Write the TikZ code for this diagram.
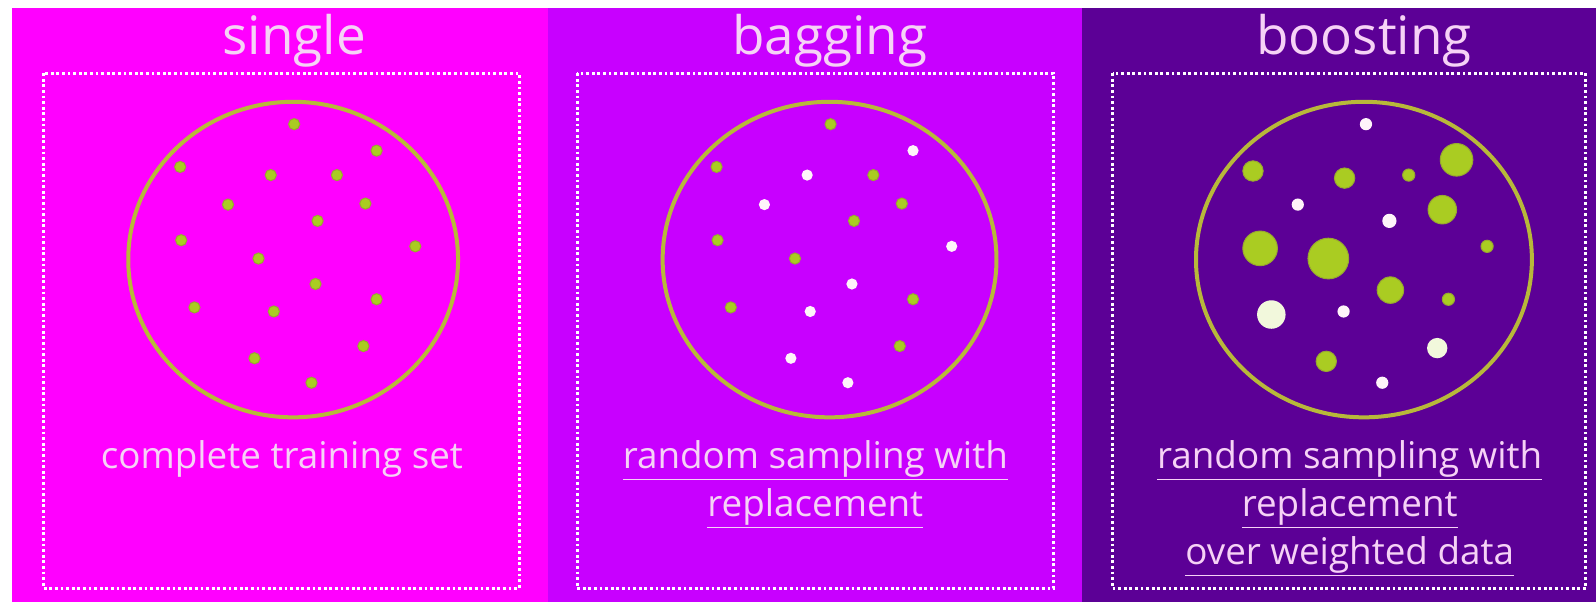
\documentclass[tikz,border=0pt]{standalone}
\usepackage{fontspec}
\setmainfont{Open Sans}
\usepackage{xcolor}
\definecolor{singleBack}  {HTML}{FF00FF}
\definecolor{baggingBack} {HTML}{C800FF}
\definecolor{boostingBack}{HTML}{5C0096}
\definecolor{ringCol}     {HTML}{B8B83A}
\definecolor{dotGreen}    {HTML}{AACC22}
\definecolor{dotEdge}     {HTML}{98A830}
\definecolor{dotWhite}    {HTML}{FFF4FA}
\definecolor{dotCream}    {HTML}{F2F8DC}
\definecolor{labelCol}    {HTML}{F6D2F6}
\usetikzlibrary{positioning}
\tikzset{
    title/.style={text=labelCol, font=\fontsize{26.5}{30}\selectfont, inner sep=0pt},
    caption/.style={text=labelCol, font=\fontsize{18.4}{24}\selectfont,
                    align=center, inner sep=0pt},
    dotbox/.style={draw=white, line width=1.5pt, dash pattern=on 1.4pt off 1.4pt},
    ring/.style={draw=ringCol, line width=2pt},
    gdot/.style={fill=dotGreen, draw=dotEdge, line width=0.5pt},
    wdot/.style={fill=dotWhite, draw=none},
    cdot/.style={fill=dotCream, draw=none},
}

\begin{document}
\begin{tikzpicture}[x=0.509pt, y=-0.509pt]
    \useasboundingbox (0,0) rectangle (1568,591);
    \fill[white] (0,0) rectangle (1568,591);
    % Panels
    \fill[singleBack]   (12,8)   rectangle (538,591);
    \fill[baggingBack]  (538,8)  rectangle (1063,591);
    \fill[boostingBack] (1063,8) rectangle (1568,591);
    % Titles
    \node[title] (tsingle)   at (289,40)  {single};
    \node[title] (tbagging)  at (815,40)  {bagging};
    \node[title] (tboosting) at (1340,40) {boosting};
    % Dotted frames
    \draw[dotbox] (43,72)   rectangle (510,578);
    \draw[dotbox] (567,72)  rectangle (1035,578);
    \draw[dotbox] (1093,72) rectangle (1558,578);
    % Rings
    \draw[ring] (288,255)  ellipse [x radius=162, y radius=155];
    \draw[ring] (815,255)  ellipse [x radius=164, y radius=155];
    \draw[ring] (1340,255) ellipse [x radius=165, y radius=155];
    % Single: the whole training set
    \foreach \x/\y in {289/122, 177/164, 370/148, 266/172, 331/172, 224/201,
                       359/200, 312/217, 178/236, 408/242, 254/254, 310/279,
                       191/302, 269/306, 370/294, 250/352, 357/340, 306/376}
        \draw[gdot] (\x,\y) circle [radius=5.5];
    % Bagging: white points are not drawn
    \foreach \x/\y/\s in {289/122/gdot, 177/164/gdot, 370/148/wdot, 266/172/wdot,
                          331/172/gdot, 224/201/wdot, 359/200/gdot, 312/217/gdot,
                          178/236/gdot, 408/242/wdot, 254/254/gdot, 310/279/wdot,
                          191/302/gdot, 269/306/wdot, 370/294/gdot, 250/352/wdot,
                          357/340/gdot, 306/376/wdot}
        \draw[\s] (\x+527,\y) circle [radius=5.5];
    % Boosting: weighted points
    \foreach \x/\y/\r/\s in {1342/122/6/wdot, 1231/168/10/gdot, 1431/157/16/gdot,
                             1321/175/10/gdot, 1384/172/6/gdot, 1275/201/6/wdot,
                             1417/206/14/gdot, 1365/217/7/wdot, 1238/244/17/gdot,
                             1305/254/20/gdot, 1461/242/6/gdot, 1366/285/13/gdot,
                             1249/309/14/cdot, 1320/306/6/wdot, 1423/294/6/gdot,
                             1303/355/10/gdot, 1412/342/10/cdot, 1358/376/6/wdot}
        \draw[\s] (\x,\y) circle [radius=\r];
    % Captions
    \node[caption, anchor=north] (csingle) at (277,432) {complete training set};
    \node[caption, anchor=north] (cbagging) at (801,432)
        {\underline{random sampling with}\\\underline{replacement}};
    \node[caption, anchor=north] (cboosting) at (1326,432)
        {\underline{random sampling with}\\\underline{replacement}\\\underline{over weighted data}};
\end{tikzpicture}
\end{document}
